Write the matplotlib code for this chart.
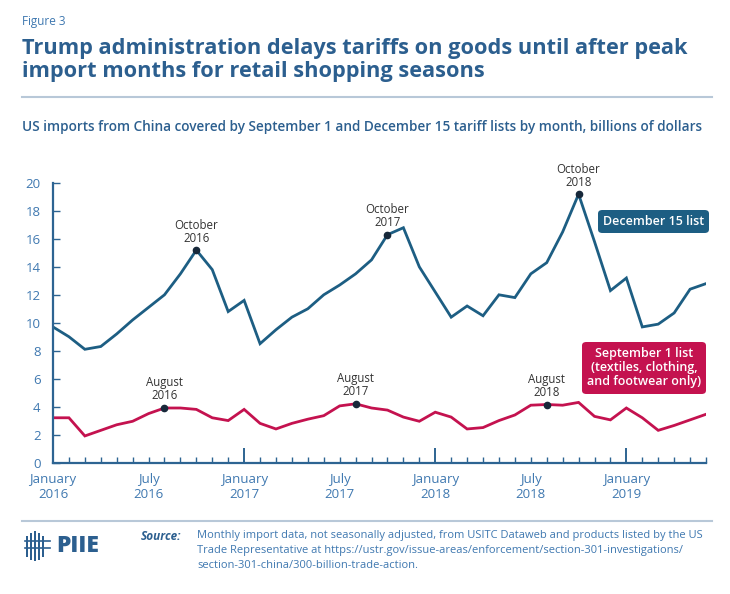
import matplotlib
matplotlib.use("Agg")
import matplotlib.pyplot as plt
from matplotlib.patches import Rectangle, FancyBboxPatch
from matplotlib.lines import Line2D

# ---------------- data ----------------
months = list(range(42))  # January 2016 .. June 2019
dec15_list = [9.7, 9.0, 8.1, 8.3, 9.2, 10.2, 11.1, 12.0, 13.5, 15.2, 13.8, 10.8,
              11.6, 8.5, 9.5, 10.4, 11.0, 12.0, 12.7, 13.5, 14.5, 16.3, 16.8, 14.0,
              12.2, 10.4, 11.2, 10.5, 12.0, 11.8, 13.5, 14.3, 16.5, 19.2, 15.8, 12.3,
              13.2, 9.7, 9.9, 10.7, 12.4, 12.8]
sep1_list = [3.2, 3.2, 1.9, 2.3, 2.7, 2.95, 3.5, 3.9, 3.9, 3.8, 3.2, 3.0,
             3.8, 2.8, 2.4, 2.8, 3.1, 3.35, 4.05, 4.2, 3.9, 3.75, 3.25, 2.95,
             3.6, 3.25, 2.4, 2.5, 3.0, 3.4, 4.1, 4.15, 4.1, 4.3, 3.3, 3.05,
             3.9, 3.2, 2.3, 2.65, 3.05, 3.45]
xtick_pos = [0, 6, 12, 18, 24, 30, 36]
xtick_labels = ["January\n2016", "July\n2016", "January\n2017", "July\n2017",
                "January\n2018", "July\n2018", "January\n2019"]
yticks = [0, 2, 4, 6, 8, 10, 12, 14, 16, 18, 20]
blue_marks = [(9, "October\n2016"), (21, "October\n2017"), (33, "October\n2018")]
red_marks = [(7, "August\n2016"), (19, "August\n2017"), (31, "August\n2018")]

# ---------------- style ----------------
FONT = "Open Sans"
plt.rcParams["font.family"] = [FONT, "DejaVu Sans"]
BLUE = "#1d5e83"
RED = "#c4124f"
AXC = "#2d6492"
TXT = "#3f78b0"
TITLE = "#2c5f8f"
DOT = "#17283a"
RULE = "#b8c8d8"

W, H = 730, 594
fig = plt.figure(figsize=(W / 100, H / 100), dpi=100)

def fx(px):
    return px / W

def fy(py):
    return 1 - py / H

ax = fig.add_axes([fx(53), fy(462.5), fx(706) - fx(53), fy(183) - fy(462.5)])
ax.plot(months, dec15_list, color=BLUE, lw=2.0, solid_joinstyle="miter")
ax.plot(months, sep1_list, color=RED, lw=2.0, solid_joinstyle="miter")

for i, lab in blue_marks:
    ax.plot(i, dec15_list[i], "o", color=DOT, ms=4.5, zorder=5)
    ax.annotate(lab, (i, dec15_list[i]), xytext=(0, 4), textcoords="offset points",
                ha="center", va="bottom", fontsize=8.3, color="#333333", linespacing=1.0)
for i, lab in red_marks:
    ax.plot(i, sep1_list[i], "o", color=DOT, ms=4.5, zorder=5)
    ax.annotate(lab, (i, sep1_list[i]), xytext=(0, 4), textcoords="offset points",
                ha="center", va="bottom", fontsize=8.3, color="#333333", linespacing=1.0)

ax.set_xlim(0, 41)
ax.set_ylim(0, 20)
for s in ["top", "right"]:
    ax.spines[s].set_visible(False)
for s in ["left", "bottom"]:
    ax.spines[s].set_color(AXC)
    ax.spines[s].set_linewidth(1.6)

ax.set_yticks(yticks)
ax.set_yticklabels([str(v) for v in yticks])
ax.tick_params(axis="y", direction="in", length=5, width=1, color=AXC,
               labelcolor=TXT, labelsize=9.5, pad=9)
ax.set_xticks([0, 12, 24, 36])
ax.set_xticklabels([])
ax.set_xticks(months, minor=True)
ax.tick_params(axis="x", which="major", direction="in", length=11, width=1.4, color=AXC)
ax.tick_params(axis="x", which="minor", direction="in", length=4.5, width=1, color=AXC)
for p, lab in zip(xtick_pos, xtick_labels):
    ax.text(p, -0.75, lab, ha="center", va="top", fontsize=9.5, color=TXT,
            linespacing=1.25, clip_on=False)

# legend boxes
def box(x0, y0, x1, y1, color, text, fs):
    p = FancyBboxPatch((fx(x0), fy(y1)), fx(x1) - fx(x0), fy(y0) - fy(y1),
                       boxstyle="round,pad=0,rounding_size=0.006",
                       transform=fig.transFigure, facecolor=color, edgecolor="none")
    fig.patches.append(p)
    fig.text(fx((x0 + x1) / 2), fy((y0 + y1) / 2), text, ha="center", va="center",
             color="white", fontsize=fs, fontweight="semibold", linespacing=1.1)

box(598, 210, 709, 233, BLUE, "December 15 list", 9)
box(582, 342, 706, 394, RED, "September 1 list\n(textiles, clothing,\nand footwear only)", 9)

# header
fig.text(fx(22), fy(22), "Figure 3", ha="left", va="center", fontsize=8.5, color=TXT)
fig.text(fx(22), fy(60), "Trump administration delays tariffs on goods until after peak\n"
         "import months for retail shopping seasons", ha="left", va="center",
         fontsize=15.7, fontweight="bold", color=TITLE, linespacing=1.08)
fig.add_artist(Line2D([fx(22), fx(712)], [fy(97), fy(97)], color=RULE, lw=1.5))
fig.text(fx(22), fy(127), "US imports from China covered by September 1 and December 15 "
         "tariff lists by month, billions of dollars", ha="left", va="center",
         fontsize=9.8, fontweight="semibold", color=TITLE)

# footer
fig.add_artist(Line2D([fx(22), fx(712)], [fy(521), fy(521)], color=RULE, lw=1.5))
for (x0, y0, x1, y1) in [(26, 536, 28, 557), (30, 533, 32, 560), (34, 531, 36, 561),
                          (38, 533, 40, 560), (42, 536, 44, 557)]:
    fig.patches.append(Rectangle((fx(x0), fy(y1)), fx(x1) - fx(x0), fy(y0) - fy(y1),
                                 transform=fig.transFigure, facecolor=TITLE, edgecolor="none"))
for yy in [541, 548]:
    fig.add_artist(Line2D([fx(25), fx(50)], [fy(yy), fy(yy)], color=TITLE, lw=1.2))
fig.text(fx(56), fy(546), "PIIE", ha="left", va="center", fontsize=16.5, fontweight="heavy",
         color=TITLE)
fig.text(fx(141), fy(537), "Source:", ha="left", va="center", fontsize=8.5,
         fontweight="bold", fontstyle="italic", color=TITLE)
fig.text(fx(197), fy(530), "Monthly import data, not seasonally adjusted, from USITC Dataweb and "
         "products listed by the US\nTrade Representative at https://ustr.gov/issue-areas/"
         "enforcement/section-301-investigations/\nsection-301-china/300-billion-trade-action.",
         ha="left", va="top", fontsize=8.0, color=TXT, linespacing=1.5,
         transform=fig.transFigure)

fig.savefig("out.png", dpi=100)
